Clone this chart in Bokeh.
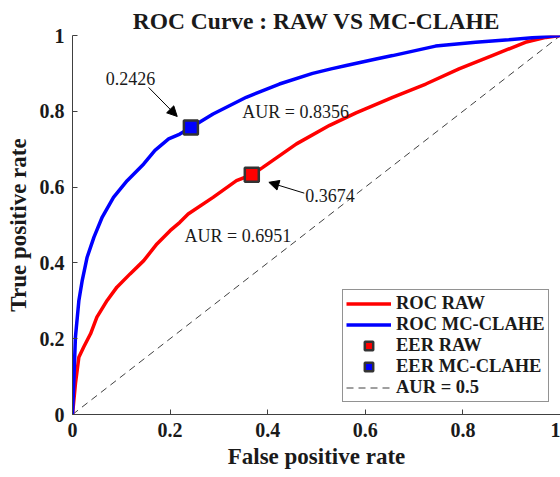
from bokeh.plotting import figure
from bokeh.models import (Legend, LegendItem, Label, Arrow, NormalHead, FixedTicker, Range1d)
from bokeh.embed import file_html
from bokeh.resources import INLINE

# ---- data ----
raw_fpr = [0, 0.006, 0.013, 0.023, 0.037, 0.050, 0.071, 0.091, 0.118, 0.146, 0.173, 0.200,
           0.220, 0.237, 0.288, 0.336, 0.3674, 0.390, 0.459, 0.527, 0.581, 0.656,
           0.724, 0.792, 0.860, 0.928, 0.970, 1.0]
raw_tpr = [0, 0.081, 0.151, 0.178, 0.213, 0.257, 0.301, 0.336, 0.371, 0.406, 0.450, 0.485,
           0.507, 0.529, 0.573, 0.617, 0.6326, 0.652, 0.714, 0.763, 0.796, 0.837,
           0.872, 0.912, 0.947, 0.982, 0.995, 1.0]

mc_fpr = [0, 0.003, 0.006, 0.013, 0.020, 0.030, 0.044, 0.061, 0.084, 0.112, 0.146, 0.169,
          0.197, 0.220, 0.2426, 0.288, 0.356, 0.424, 0.492, 0.530, 0.561, 0.622, 0.656, 0.744,
          0.826, 0.894, 0.960, 1.0]
mc_tpr = [0, 0.098, 0.204, 0.300, 0.354, 0.415, 0.468, 0.521, 0.573, 0.617, 0.661, 0.697,
          0.727, 0.740, 0.7574, 0.793, 0.837, 0.872, 0.900, 0.912, 0.921, 0.938, 0.947, 0.972,
          0.982, 0.989, 0.996, 1.0]

eer_raw = 0.3674
eer_mc = 0.2426
auc_raw = 0.6951
auc_mc = 0.8356
diag_x = [0, 1]
diag_y = [0, 1]
ticks = [0, 0.2, 0.4, 0.6, 0.8, 1]
tick_labels = ["0", "0.2", "0.4", "0.6", "0.8", "1"]

FONT = "Liberation Serif"

p = figure(width=560, height=477, output_backend="svg", toolbar_location=None,
           x_range=Range1d(0, 1), y_range=Range1d(0, 1),
           title="ROC Curve : RAW VS MC-CLAHE",
           min_border_left=72, min_border_right=0, min_border_top=35, min_border_bottom=63)
p.outline_line_color = None
p.xgrid.visible = False
p.ygrid.visible = False
p.background_fill_color = "white"
p.border_fill_color = "white"

p.title.align = "center"
p.title.text_font = FONT
p.title.text_font_style = "bold"
p.title.text_font_size = "23.5px"
p.title.text_color = "#1a1a1a"
p.title.standoff = 3

for ax in (p.xaxis[0], p.yaxis[0]):
    ax.ticker = FixedTicker(ticks=ticks)
    ax.major_label_overrides = {t: l for t, l in zip(ticks, tick_labels)}
    ax.major_tick_in = 5
    ax.major_tick_out = 0
    ax.minor_tick_line_color = None
    ax.axis_line_color = "#404040"
    ax.major_tick_line_color = "#404040"
    ax.major_label_text_font = FONT
    ax.major_label_text_font_style = "bold"
    ax.major_label_text_font_size = "20px"
    ax.major_label_text_color = "#1a1a1a"
    ax.axis_label_text_font = FONT
    ax.axis_label_text_font_style = "bold"
    ax.axis_label_text_font_size = "23px"
    ax.axis_label_text_color = "#1a1a1a"
    ax.major_label_standoff = 8

p.xaxis.axis_label = "False positive rate"
p.yaxis.axis_label = "True positive rate"
p.xaxis.axis_label_standoff = 4
p.yaxis.axis_label_standoff = 6

r_diag = p.line(diag_x, diag_y, line_color="#404040", line_width=1, line_dash="7 5")
r_raw = p.line(raw_fpr, raw_tpr, line_color="#ff0000", line_width=3.5)
r_mc = p.line(mc_fpr, mc_tpr, line_color="#0000ff", line_width=3.5)
r_eer_raw = p.scatter([eer_raw], [1 - eer_raw], marker="square", size=14,
                      fill_color="#ff0000", line_color="#333333", line_width=2.5)
r_eer_mc = p.scatter([eer_mc], [1 - eer_mc], marker="square", size=14,
                     fill_color="#0000ff", line_color="#333333", line_width=2.5)

# arrows
head = dict(size=10, fill_color="black", line_color="black")
p.add_layout(Arrow(end=NormalHead(**head), x_start=0.156, y_start=0.863,
                   x_end=eer_mc - 0.028, y_end=1 - eer_mc + 0.029,
                   line_color="black", line_width=1))
p.add_layout(Arrow(end=NormalHead(**head), x_start=0.475, y_start=0.584,
                   x_end=eer_raw + 0.035, y_end=1 - eer_raw - 0.02,
                   line_color="black", line_width=1))

lab = dict(text_font=FONT, text_font_size="18px", text_color="#1a1a1a", text_baseline="middle")
p.add_layout(Label(x=0.119, y=0.887, text=f"{eer_mc:.4f}", text_align="center", **lab))
p.add_layout(Label(x=0.477, y=0.578, text=f"{eer_raw:.4f}", text_align="left", **lab))
p.add_layout(Label(x=0.348, y=0.797, text=f"AUR = {auc_mc:.4f}", text_align="left", **lab))
p.add_layout(Label(x=0.2295, y=0.470, text=f"AUR = {auc_raw:.4f}", text_align="left", **lab))

legend = Legend(items=[
    LegendItem(label="ROC RAW", renderers=[r_raw]),
    LegendItem(label="ROC MC-CLAHE", renderers=[r_mc]),
    LegendItem(label="EER RAW", renderers=[r_eer_raw]),
    LegendItem(label="EER MC-CLAHE", renderers=[r_eer_mc]),
    LegendItem(label="AUR = 0.5", renderers=[r_diag]),
], location=(270, 12))
legend.label_text_font = FONT
legend.label_text_font_style = "bold"
legend.label_text_font_size = "18.5px"
legend.label_text_color = "#1a1a1a"
legend.glyph_width = 45
legend.glyph_height = 21
legend.label_height = 21
legend.label_standoff = 5
legend.spacing = 0
legend.padding = 3
legend.margin = 0
legend.border_line_color = "#262626"
legend.border_line_width = 1
legend.background_fill_color = "white"
legend.background_fill_alpha = 1
p.add_layout(legend)

open("out.html", "w").write(file_html(p, INLINE))
